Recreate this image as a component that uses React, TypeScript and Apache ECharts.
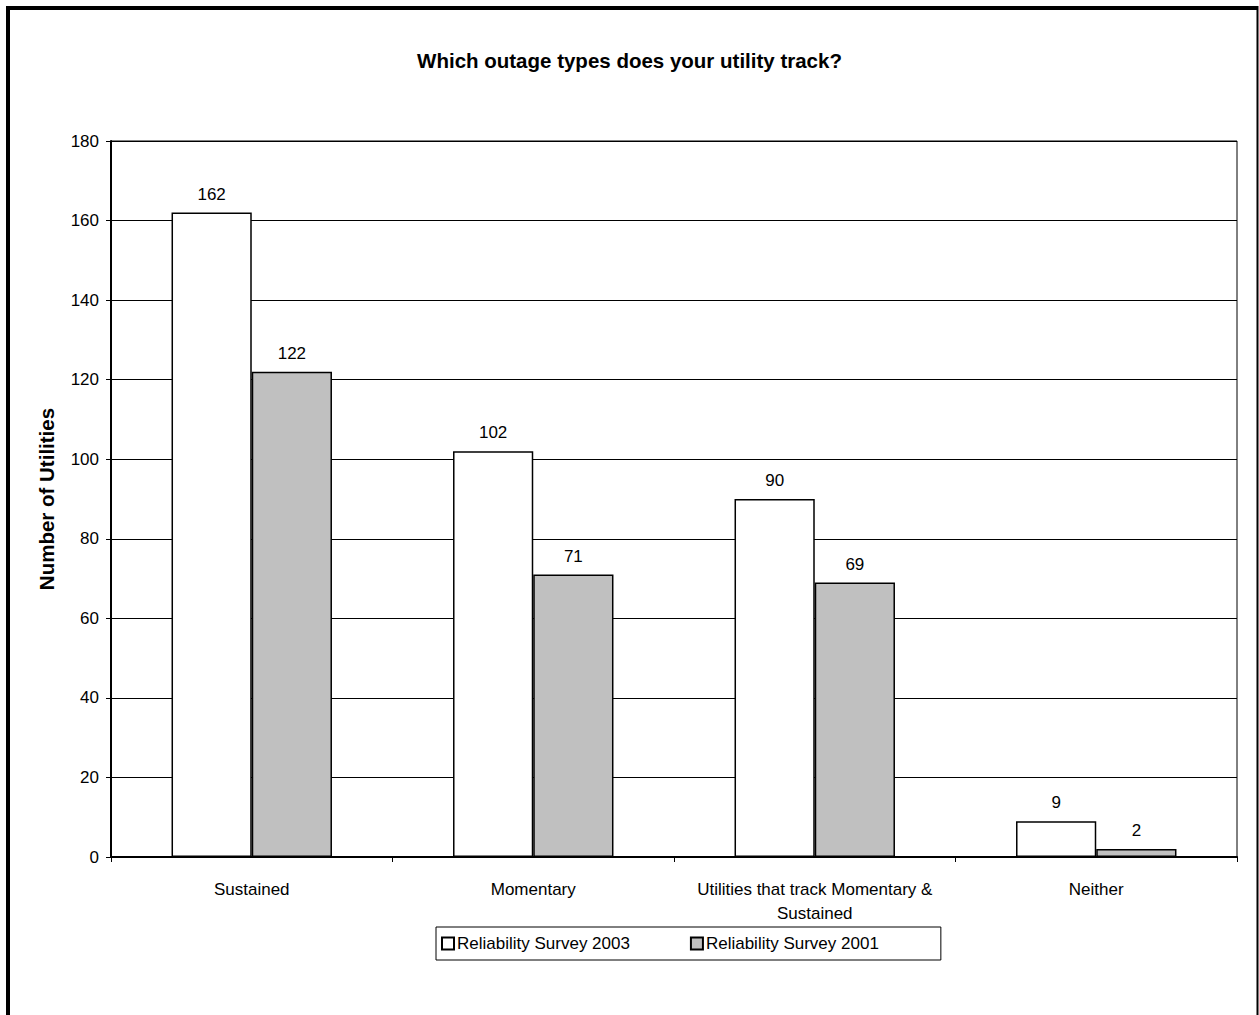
import React, { useEffect, useRef } from "react";
import * as echarts from "echarts";

const categories = [
  "Sustained",
  "Momentary",
  "Utilities that track Momentary &\nSustained",
  "Neither",
];
const survey2003 = [162, 102, 90, 9];
const survey2001 = [122, 71, 69, 2];
const seriesNames = ["Reliability Survey 2003", "Reliability Survey 2001"];
const yTicks = { min: 0, max: 180, interval: 20 };

const FONT = '"Liberation Sans", Arial, Helvetica, sans-serif';

export default function App() {
  const ref = useRef<HTMLDivElement>(null);

  useEffect(() => {
    if (!ref.current) return;
    const chart = echarts.init(ref.current, null, { renderer: "svg" });
    const labelStyle = {
      show: true,
      position: "top" as const,
      distance: 10,
      color: "#000",
      fontSize: 17,
      fontFamily: FONT,
    };
    chart.setOption({
      animation: false,
      backgroundColor: "#fff",
      textStyle: { fontFamily: FONT, color: "#000" },
      title: {
        text: "Which outage types does your utility track?",
        left: "center",
        top: 45,
        textStyle: { fontSize: 20.5, fontWeight: "bold", color: "#000", fontFamily: FONT },
      },
      graphic: [
        { type: "line", shape: { x1: 8, y1: 6, x2: 8, y2: 1015 }, style: { stroke: "#000", lineWidth: 4 } },
        { type: "line", shape: { x1: 6, y1: 8, x2: 1258, y2: 8 }, style: { stroke: "#000", lineWidth: 4 } },
        { type: "line", shape: { x1: 1257.5, y1: 6, x2: 1257.5, y2: 1015 }, style: { stroke: "#000", lineWidth: 2 } },
      ],
      grid: {
        left: 111,
        right: 22,
        top: 141,
        bottom: 158,
        show: true,
        borderColor: "#000",
        borderWidth: 1,
        backgroundColor: "transparent",
      },
      legend: {
        data: seriesNames,
        icon: "rect",
        left: 436,
        top: 927,
        orient: "horizontal",
        itemWidth: 12,
        itemHeight: 12,
        itemGap: 60,
        padding: [8, 62, 8, 5],
        borderColor: "#000",
        borderWidth: 1,
        textStyle: { fontSize: 17, color: "#000", fontFamily: FONT, padding: [0, 0, 0, -2] },
      },
      xAxis: {
        type: "category",
        data: categories,
        axisLine: { show: true, lineStyle: { color: "#000", width: 2 } },
        axisTick: { show: true, length: 5, alignWithLabel: false, lineStyle: { color: "#000" } },
        axisLabel: {
          color: "#000",
          fontSize: 17,
          fontFamily: FONT,
          margin: 20,
          lineHeight: 24,
          interval: 0,
        },
      },
      yAxis: {
        type: "value",
        min: yTicks.min,
        max: yTicks.max,
        interval: yTicks.interval,
        name: "Number of Utilities",
        nameLocation: "middle",
        nameGap: 54,
        nameTextStyle: { fontSize: 20.5, fontWeight: "bold", color: "#000", fontFamily: FONT },
        axisLine: { show: true, lineStyle: { color: "#000", width: 2 } },
        axisTick: { show: true, length: 5, lineStyle: { color: "#000" } },
        axisLabel: { color: "#000", fontSize: 17, fontFamily: FONT, margin: 12 },
        splitLine: { show: true, lineStyle: { color: "#000", width: 1 } },
      },
      series: [
        {
          name: seriesNames[0],
          type: "bar",
          data: survey2003,
          barGap: "0%",
          barCategoryGap: "43%",
          itemStyle: { color: "#ffffff", borderColor: "#000", borderWidth: 1.5 },
          label: labelStyle,
        },
        {
          name: seriesNames[1],
          type: "bar",
          data: survey2001,
          itemStyle: { color: "#c0c0c0", borderColor: "#000", borderWidth: 1.5 },
          label: labelStyle,
        },
      ],
    });
    return () => chart.dispose();
  }, []);

  return (
    <div
      ref={ref}
      style={{ position: "absolute", left: 0, top: 0, width: 1259, height: 1015 }}
    />
  );
}
